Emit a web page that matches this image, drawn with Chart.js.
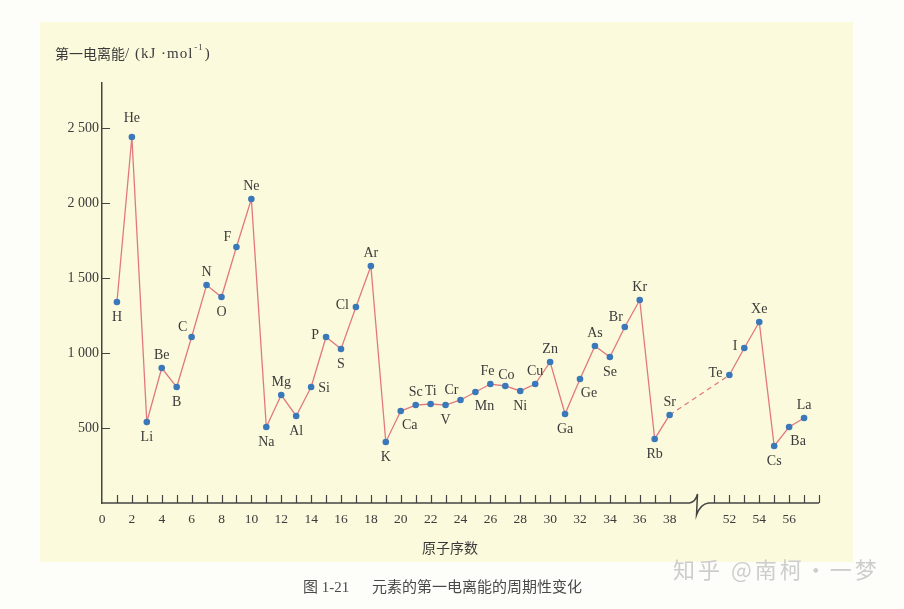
<!DOCTYPE html>
<html>
<head>
<meta charset="utf-8">
<script src="https://cdn.jsdelivr.net/npm/chart.js@4.4.1/dist/chart.umd.min.js"></script>
<style>
  html, body { margin: 0; padding: 0; background: #fdfdf9; }
  #ieChart { display: block; }
</style>
</head>
<body>
<canvas id="ieChart" width="904" height="609"></canvas>
<script>
// element symbols, atomic numbers and first ionization energy (kJ/mol)
const elements = ['H','He','Li','Be','B','C','N','O','F','Ne','Na','Mg','Al','Si','P','S','Cl','Ar',
  'K','Ca','Sc','Ti','V','Cr','Mn','Fe','Co','Ni','Cu','Zn','Ga','Ge','As','Se','Br','Kr',
  'Rb','Sr','Te','I','Xe','Cs','Ba','La'];
const atomicNumbers = [1,2,3,4,5,6,7,8,9,10,11,12,13,14,15,16,17,18,
  19,20,21,22,23,24,25,26,27,28,29,30,31,32,33,34,35,36,
  37,38,52,53,54,55,56,57];
const energies = [1340,2440,540,900,773,1107,1453,1373,1707,2027,507,720,580,773,1107,1027,1307,1580,
  407,613,653,660,653,687,740,793,780,747,793,940,593,827,1047,973,1173,1353,
  427,587,853,1033,1207,380,507,567];

const xTickLabels = [0,2,4,6,8,10,12,14,16,18,20,22,24,26,28,30,32,34,36,38,52,54,56];
const yTickLabels = [500,1000,1500,2000,2500];

// where each symbol sits relative to its point
const labelPlace = ['b','tt','b','t','b','tl','t','b','tl','t','b','t','b','r','l','b','l','t',
  'b','br','t','t','b','tl','br','tL','tR','b','t','t','b','br','t','b','tl','t',
  'b','t','l','l','t','b','br','t'];

// the axis skips 39..50
const BREAK_FROM = 38, BREAK_TO = 51, BREAK_GAP = 3;
const toAxis = z => z <= BREAK_FROM ? z : z - (BREAK_TO - BREAK_FROM - BREAK_GAP);
const fromAxis = p => p <= BREAK_FROM ? p : p + (BREAK_TO - BREAK_FROM - BREAK_GAP);

const ink = '#3b3b3b';
const serif = '"Liberation Serif", "Noto Sans CJK SC", serif';

const paperPlugin = {
  id: 'paper',
  beforeDraw(chart) {
    const c = chart.ctx;
    c.save();
    c.fillStyle = '#fdfdf9';
    c.fillRect(0, 0, chart.width, chart.height);
    c.fillStyle = '#fcfadc';
    c.fillRect(40, 22, 813, 540);
    c.restore();
  }
};

const axesPlugin = {
  id: 'axesDeco',
  afterDraw(chart) {
    const c = chart.ctx;
    const xs = chart.scales.x, ys = chart.scales.y;
    const a = chart.chartArea;
    const yb = a.bottom;
    const brk = xs.getPixelForValue(BREAK_FROM + 2) - 2;
    c.save();
    c.strokeStyle = '#444';
    c.lineWidth = 1.5;
    // x axis with break mark
    c.beginPath();
    c.moveTo(a.left, yb);
    c.lineTo(brk - 8, yb);
    c.quadraticCurveTo(brk - 2, yb - 1, brk, yb - 9);
    c.lineTo(brk - 1, yb + 12);
    c.quadraticCurveTo(brk + 3, yb + 1, brk + 11, yb);
    c.lineTo(a.right, yb);
    c.stroke();
    // tick marks pointing inward
    c.lineWidth = 1.2;
    c.beginPath();
    for (let z = 1; z <= 58; z++) {
      if (z > BREAK_FROM && z < BREAK_TO) continue;
      const px = Math.round(xs.getPixelForValue(toAxis(z))) + 0.5;
      c.moveTo(px, yb);
      c.lineTo(px, yb - 8);
    }
    yTickLabels.forEach(v => {
      const py = Math.round(ys.getPixelForValue(v)) + 0.5;
      c.moveTo(a.left, py);
      c.lineTo(a.left + 8, py);
    });
    c.stroke();

    // axis titles
    c.fillStyle = ink;
    c.textBaseline = 'middle';
    c.textAlign = 'left';
    c.font = '14px "Noto Sans CJK SC", sans-serif';
    const t1 = '第一电离能';
    c.fillText(t1, 55, 54);
    let x = 55 + c.measureText(t1).width;
    c.font = '15px ' + serif;
    if ('letterSpacing' in c) c.letterSpacing = '1px';
    const t2 = '/ (kJ ·mol';
    c.fillText(t2, x, 54);
    x += c.measureText(t2).width;
    c.font = '9px ' + serif;
    c.fillText('-1', x + 1, 48);
    x += c.measureText('-1').width + 2;
    c.font = '15px ' + serif;
    c.fillText(')', x, 54);
    if ('letterSpacing' in c) c.letterSpacing = '0px';

    c.font = '14px "Noto Sans CJK SC", sans-serif';
    c.textAlign = 'center';
    c.fillText('原子序数', 450, 548);

    c.fillStyle = '#4a4a4a';
    c.font = '15px ' + serif;
    c.textAlign = 'left';
    c.fillText('图 1-21', 303, 588);
    c.fillText('元素的第一电离能的周期性变化', 372, 588);

    // watermark
    c.fillStyle = '#cdcdcd';
    c.font = '22px "Noto Sans CJK SC", sans-serif';
    if ('letterSpacing' in c) c.letterSpacing = '3px';
    c.fillText('知乎 @南柯·一梦', 673, 570);
    c.restore();
  }
};

const symbolPlugin = {
  id: 'symbols',
  afterDatasetsDraw(chart) {
    const c = chart.ctx;
    const pts = chart.getDatasetMeta(0).data;
    const place = {
      t: [0, -13, 'center'], tt: [0, -19, 'center'], b: [0, 15, 'center'],
      tL: [-3, -13, 'center'], tR: [1, -11, 'center'],
      l: [-7, -2, 'right'], r: [7, 1, 'left'], tl: [-9, -10, 'center'], br: [9, 14, 'center']
    };
    c.save();
    c.fillStyle = ink;
    c.font = '14px ' + serif;
    c.textBaseline = 'middle';
    pts.forEach((p, i) => {
      const [dx, dy, al] = place[labelPlace[i]];
      c.textAlign = al;
      c.fillText(elements[i], p.x + dx, p.y + dy);
    });
    c.restore();
  }
};

const ctx = document.getElementById('ieChart').getContext('2d');
const chart = new Chart(ctx, {
  type: 'line',
  data: {
    datasets: [{
      label: '第一电离能',
      data: atomicNumbers.map((z, i) => ({ x: toAxis(z), y: energies[i] })),
      borderColor: '#e17880',
      borderWidth: 1.3,
      pointBackgroundColor: '#3b78b9',
      pointBorderColor: '#3b78b9',
      pointRadius: 3.3,
      pointBorderWidth: 0,
      tension: 0,
      segment: {
        borderDash: s => s.p0.parsed.x === BREAK_FROM ? [5, 4] : undefined
      }
    }]
  },
  options: {
    responsive: false,
    animation: false,
    layout: { padding: { left: 42, right: 85, top: 83, bottom: 56 } },
    plugins: {
      legend: { display: false },
      tooltip: { enabled: false }
    },
    scales: {
      x: {
        type: 'linear',
        min: 0,
        max: 48,
        grid: { display: false, drawTicks: false },
        border: { display: false },
        afterBuildTicks: s => { s.ticks = xTickLabels.map(z => ({ value: toAxis(z) })); },
        afterFit: s => { s.height = 50; },
        ticks: {
          autoSkip: false,
          maxRotation: 0,
          padding: 8,
          color: ink,
          font: { family: serif, size: 13.5 },
          callback: v => String(fromAxis(v))
        }
      },
      y: {
        min: 0,
        max: 2800,
        grid: { display: false, drawTicks: false },
        border: { display: true, color: '#444', width: 1.5 },
        afterBuildTicks: s => { s.ticks = yTickLabels.map(v => ({ value: v })); },
        afterFit: s => { s.width = 60; },
        ticks: {
          padding: 3,
          color: ink,
          font: { family: serif, size: 14 },
          callback: v => v >= 1000 ? Math.floor(v / 1000) + ' ' + String(v % 1000).padStart(3, '0') : String(v)
        }
      }
    }
  },
  plugins: [paperPlugin, axesPlugin, symbolPlugin]
});
</script>
</body>
</html>
